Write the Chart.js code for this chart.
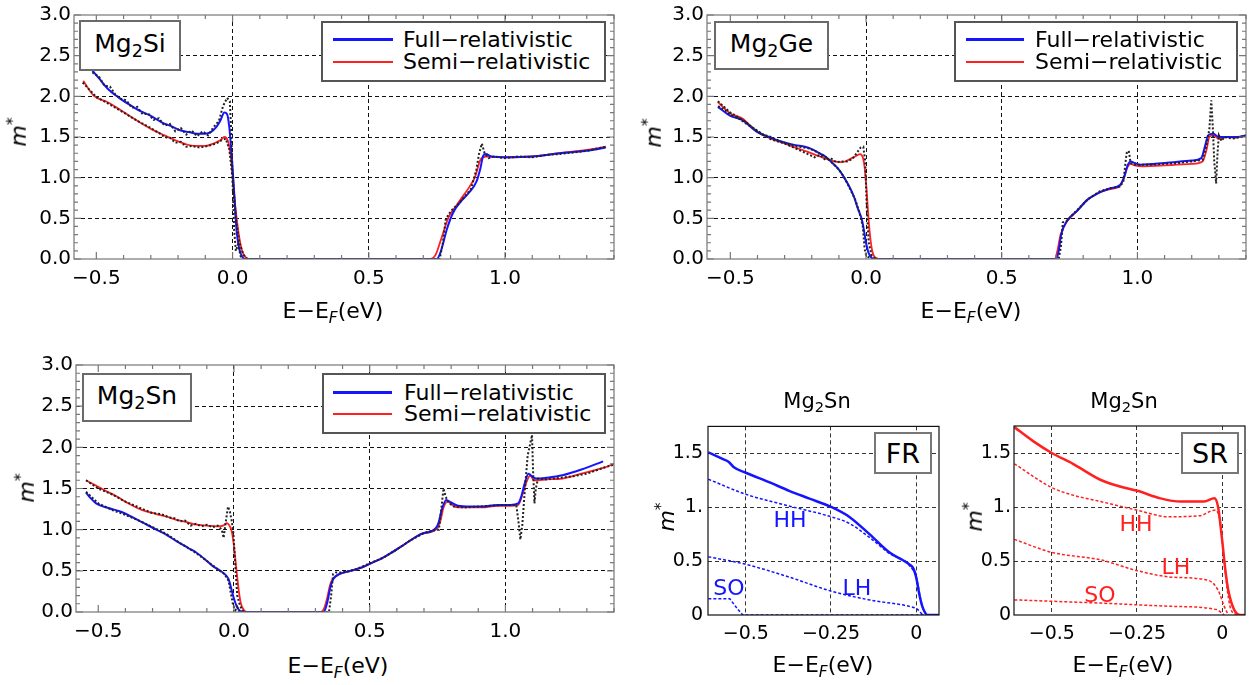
<!DOCTYPE html>
<html>
<head>
<meta charset="utf-8">
<script src="https://cdn.jsdelivr.net/npm/chart.js@4.4.1/dist/chart.umd.min.js"></script>
<style>
body { margin: 0; background: #fff; width: 1257px; height: 685px; position: relative; overflow: hidden; font-family: "DejaVu Sans", sans-serif; }
canvas { position: absolute; }
.c { position: absolute; white-space: nowrap; line-height: 1; transform: translate(-50%, -50%); }
.r { position: absolute; white-space: nowrap; line-height: 1; transform: translate(-50%, -50%) rotate(-90deg); font-size: 22px; }
.box { position: absolute; box-sizing: border-box; border: 2px solid #6a6a6a; background: #fff; display: flex; align-items: center; justify-content: center; }
.box > span { white-space: nowrap; line-height: 1; }
.leg { position: absolute; white-space: nowrap; line-height: 1; font-size: 22px; transform: translateY(-50%); }
.ln { position: absolute; }
.sb { font-size: 70%; vertical-align: -0.3em; }
.sp { font-size: 70%; vertical-align: 0.55em; }
.xt { font-size: 22px; }
</style>
</head>
<body>
<canvas id="si" width="630" height="300" style="left:0;top:0"></canvas>
<canvas id="ge" width="625" height="300" style="left:632px;top:0"></canvas>
<canvas id="sn" width="630" height="300" style="left:0;top:350px"></canvas>
<canvas id="fr" width="310" height="240" style="left:640px;top:410px"></canvas>
<canvas id="sr" width="307" height="240" style="left:950px;top:410px"></canvas>

<!-- Mg2Si -->
<div class="box" style="left:79px;top:20px;width:102px;height:51px;font-size:25px"><span>Mg<span class="sb">2</span>Si</span></div>
<div class="box" style="left:321px;top:21px;width:285px;height:61px;border-color:#555"></div>
<div class="ln" style="left:333px;top:38px;width:60px;height:3px;background:#1414ff"></div>
<div class="ln" style="left:333px;top:61px;width:60px;height:2px;background:#ff2020"></div>
<div class="leg" style="left:403px;top:40px">Full−relativistic</div>
<div class="leg" style="left:403px;top:62px">Semi−relativistic</div>
<div class="c xt" style="left:333px;top:313px">E−E<span class="sb"><i>F</i></span>(eV)</div>
<div class="r" style="left:18px;top:132px"><i>m</i><span class="sp">*</span></div>

<!-- Mg2Ge -->
<div class="box" style="left:714px;top:21px;width:115px;height:49px;font-size:25px"><span>Mg<span class="sb">2</span>Ge</span></div>
<div class="box" style="left:954px;top:21px;width:284px;height:61px;border-color:#555"></div>
<div class="ln" style="left:966px;top:38px;width:58px;height:3px;background:#1414ff"></div>
<div class="ln" style="left:966px;top:61px;width:58px;height:2px;background:#ff2020"></div>
<div class="leg" style="left:1035px;top:40px">Full−relativistic</div>
<div class="leg" style="left:1035px;top:62px">Semi−relativistic</div>
<div class="c xt" style="left:971px;top:313px">E−E<span class="sb"><i>F</i></span>(eV)</div>
<div class="r" style="left:653px;top:133px"><i>m</i><span class="sp">*</span></div>

<!-- Mg2Sn -->
<div class="box" style="left:82px;top:373px;width:110px;height:49px;font-size:25px"><span>Mg<span class="sb">2</span>Sn</span></div>
<div class="box" style="left:322px;top:373px;width:284px;height:61px;border-color:#555"></div>
<div class="ln" style="left:333px;top:391px;width:59px;height:3px;background:#1414ff"></div>
<div class="ln" style="left:333px;top:413px;width:59px;height:2px;background:#ff2020"></div>
<div class="leg" style="left:404px;top:393px">Full−relativistic</div>
<div class="leg" style="left:404px;top:414px">Semi−relativistic</div>
<div class="c xt" style="left:338px;top:668px">E−E<span class="sb"><i>F</i></span>(eV)</div>
<div class="r" style="left:26px;top:488px"><i>m</i><span class="sp">*</span></div>

<!-- FR -->
<div class="c" style="left:817px;top:403px;font-size:21px">Mg<span class="sb">2</span>Sn</div>
<div class="box" style="left:874px;top:432px;width:58px;height:42px;font-size:27px;border-color:#777"><span>FR</span></div>
<div class="c" style="left:790px;top:520px;font-size:22px;color:#1414ff">HH</div>
<div class="c" style="left:857px;top:588px;font-size:22px;color:#1414ff">LH</div>
<div class="c" style="left:729px;top:588px;font-size:22px;color:#1414ff">SO</div>
<div class="c xt" style="left:823px;top:667px">E−E<span class="sb"><i>F</i></span>(eV)</div>
<div class="r" style="left:666px;top:517px"><i>m</i><span class="sp">*</span></div>

<!-- SR -->
<div class="c" style="left:1124px;top:403px;font-size:21px">Mg<span class="sb">2</span>Sn</div>
<div class="box" style="left:1181px;top:432px;width:58px;height:42px;font-size:27px;border-color:#777"><span>SR</span></div>
<div class="c" style="left:1136px;top:524px;font-size:22px;color:#ff2020">HH</div>
<div class="c" style="left:1176px;top:567px;font-size:22px;color:#ff2020">LH</div>
<div class="c" style="left:1100px;top:595px;font-size:22px;color:#ff2020">SO</div>
<div class="c xt" style="left:1123px;top:667px">E−E<span class="sb"><i>F</i></span>(eV)</div>
<div class="r" style="left:974px;top:517px"><i>m</i><span class="sp">*</span></div>

<script>
// ticks
const bigXTicks = [-0.5, 0, 0.5, 1.0];
const bigXLabels = ['−0.5', '0.0', '0.5', '1.0'];
const bigYTicks = [0, 0.5, 1, 1.5, 2, 2.5, 3];
const bigYLabels = ['0.0', '0.5', '1.0', '1.5', '2.0', '2.5', '3.0'];
const smallXTicks = [-0.5, -0.25, 0];
const smallXLabels = ['−0.5', '−0.25', '0'];
const smallYTicks = [0, 0.5, 1, 1.5];
const smallYLabels = ['0', '0.5', '1.', '1.5'];

// Mg2Si  [E - EF, m*]
const siFull = [[-0.52,2.34],[-0.49,2.22],[-0.46,2.1],[-0.42,1.99],[-0.38,1.9],[-0.34,1.82],[-0.3,1.76],[-0.26,1.68],[-0.23,1.64],[-0.19,1.58],[-0.16,1.56],[-0.13,1.54],[-0.1,1.54],[-0.08,1.56],[-0.06,1.62],[-0.045,1.7],[-0.03,1.8],[-0.02,1.78],[-0.012,1.62],[-0.005,1.35],[0,1.12],[0.008,0.7],[0.015,0.34],[0.025,0.12],[0.035,0.03],[0.045,0],
  [0.75,0],[0.765,0.1],[0.786,0.36],[0.808,0.56],[0.836,0.7],[0.866,0.81],[0.895,0.95],[0.91,1.12],[0.92,1.27],[0.93,1.29],[0.95,1.26],[1.0,1.25],[1.1,1.26],[1.2,1.3],[1.3,1.33],[1.37,1.37]];
const siSemi = [[-0.548,2.19],[-0.51,2.01],[-0.46,1.93],[-0.42,1.85],[-0.36,1.72],[-0.3,1.6],[-0.25,1.52],[-0.21,1.46],[-0.17,1.41],[-0.14,1.39],[-0.1,1.39],[-0.07,1.42],[-0.045,1.46],[-0.03,1.5],[-0.018,1.46],[-0.008,1.3],[0,1.05],[0.01,0.65],[0.022,0.32],[0.035,0.1],[0.051,0.01],[0.06,0],
  [0.728,0],[0.745,0.05],[0.765,0.24],[0.794,0.52],[0.82,0.65],[0.845,0.77],[0.87,0.89],[0.89,1.01],[0.91,1.22],[0.93,1.26],[1.0,1.25],[1.1,1.26],[1.2,1.3],[1.3,1.34],[1.37,1.38]];
const siRawFull = [[-0.53,2.38],[-0.51,2.28],[-0.49,2.24],[-0.47,2.13],[-0.45,2.12],[-0.43,2.02],[-0.41,1.97],[-0.39,1.95],[-0.37,1.86],[-0.35,1.87],[-0.33,1.78],[-0.31,1.79],[-0.29,1.71],[-0.27,1.73],[-0.25,1.64],[-0.23,1.66],[-0.21,1.57],[-0.19,1.61],[-0.17,1.53],[-0.15,1.58],[-0.13,1.51],[-0.11,1.57],[-0.09,1.52],[-0.07,1.62],[-0.05,1.7],[-0.035,1.88],[-0.02,1.98],[-0.01,1.94],[-0.004,1.5],[0,0.95],[0.006,0.35],[0.012,0.1],[0.02,0.18],[0.03,0.03],[0.04,0],
  [0.76,0],[0.772,0.2],[0.782,0.48],[0.795,0.56],[0.81,0.62],[0.83,0.68],[0.85,0.76],[0.875,0.86],[0.895,1.1],[0.905,1.3],[0.915,1.42],[0.925,1.3],[0.94,1.24],[0.96,1.26],[1.0,1.24],[1.05,1.26],[1.1,1.25],[1.15,1.28],[1.2,1.29],[1.25,1.31],[1.3,1.33],[1.37,1.38]];
const siRawSemi = [[-0.55,2.17],[-0.5,1.99],[-0.45,1.9],[-0.4,1.8],[-0.35,1.7],[-0.3,1.61],[-0.27,1.55],[-0.25,1.5],[-0.23,1.49],[-0.21,1.43],[-0.19,1.44],[-0.17,1.38],[-0.15,1.39],[-0.12,1.37],[-0.09,1.39],[-0.06,1.42],[-0.04,1.46],[-0.025,1.48],[-0.012,1.35],[0,1.0],[0.012,0.5],[0.025,0.2],[0.04,0.05],[0.055,0]];

// Mg2Ge
const geFull = [[-0.546,1.87],[-0.5,1.76],[-0.457,1.71],[-0.4,1.56],[-0.35,1.49],[-0.307,1.44],[-0.26,1.4],[-0.225,1.38],[-0.2,1.35],[-0.172,1.3],[-0.15,1.26],[-0.127,1.19],[-0.1,1.1],[-0.082,1.01],[-0.06,0.88],[-0.045,0.77],[-0.03,0.62],[-0.015,0.48],[-0.007,0.34],[0,0.2],[0.01,0.07],[0.022,0.01],[0.03,0],
  [0.7,0],[0.71,0.1],[0.719,0.3],[0.741,0.47],[0.78,0.6],[0.816,0.73],[0.85,0.8],[0.868,0.83],[0.9,0.87],[0.936,0.91],[0.95,1.0],[0.965,1.16],[0.975,1.2],[0.99,1.18],[1.01,1.16],[1.1,1.18],[1.2,1.21],[1.235,1.24],[1.25,1.4],[1.26,1.52],[1.28,1.54],[1.3,1.5],[1.34,1.5],[1.37,1.5],[1.40,1.52]];
const geSemi = [[-0.546,1.93],[-0.5,1.79],[-0.457,1.73],[-0.4,1.56],[-0.35,1.48],[-0.3,1.42],[-0.26,1.37],[-0.217,1.32],[-0.17,1.26],[-0.127,1.21],[-0.09,1.19],[-0.07,1.21],[-0.052,1.24],[-0.035,1.27],[-0.022,1.29],[-0.012,1.25],[-0.005,1.12],[0.002,0.85],[0.008,0.55],[0.015,0.28],[0.025,0.07],[0.04,0.01],[0.052,0],
  [0.695,0],[0.705,0.1],[0.717,0.3],[0.74,0.46],[0.78,0.6],[0.816,0.73],[0.85,0.8],[0.868,0.83],[0.9,0.86],[0.936,0.9],[0.95,0.99],[0.962,1.12],[0.975,1.17],[0.99,1.15],[1.02,1.14],[1.1,1.15],[1.2,1.17],[1.24,1.2],[1.255,1.35],[1.265,1.5],[1.28,1.52],[1.3,1.48],[1.33,1.5],[1.36,1.49],[1.40,1.52]];
const geRawFull = [[-0.545,1.88],[-0.52,1.83],[-0.5,1.77],[-0.47,1.73],[-0.44,1.66],[-0.41,1.6],[-0.38,1.53],[-0.35,1.5],[-0.32,1.45],[-0.29,1.42],[-0.26,1.39],[-0.23,1.37],[-0.21,1.36],[-0.19,1.33],[-0.17,1.3],[-0.15,1.26],[-0.13,1.2],[-0.1,1.1],[-0.08,1.0],[-0.06,0.87],[-0.04,0.73],[-0.025,0.58],[-0.012,0.4],[-0.005,0.12],[0,0.05],[0.01,0.02],[0.02,0],
  [0.71,0],[0.718,0.15],[0.725,0.45],[0.74,0.47],[0.78,0.61],[0.82,0.74],[0.86,0.83],[0.9,0.87],[0.935,0.89],[0.948,0.95],[0.96,1.3],[0.968,1.33],[0.975,1.18],[0.99,1.16],[1.05,1.16],[1.1,1.17],[1.15,1.18],[1.2,1.2],[1.24,1.22],[1.255,1.4],[1.265,1.6],[1.272,1.95],[1.278,1.6],[1.283,1.2],[1.29,0.93],[1.295,1.3],[1.3,1.52],[1.31,1.45],[1.32,1.5],[1.35,1.48],[1.38,1.5],[1.40,1.52]];
const geRawSemi = [[-0.546,1.94],[-0.5,1.8],[-0.45,1.7],[-0.4,1.57],[-0.35,1.47],[-0.3,1.42],[-0.26,1.36],[-0.22,1.3],[-0.19,1.25],[-0.17,1.28],[-0.15,1.22],[-0.13,1.24],[-0.11,1.19],[-0.09,1.2],[-0.07,1.2],[-0.05,1.23],[-0.035,1.3],[-0.02,1.37],[-0.01,1.38],[-0.003,1.2],[0.003,0.6],[0.01,0.2],[0.02,0.05],[0.035,0]];

// Mg2Sn
const snFull = [[-0.545,1.45],[-0.53,1.39],[-0.508,1.32],[-0.46,1.26],[-0.419,1.22],[-0.35,1.11],[-0.286,1.0],[-0.25,0.94],[-0.212,0.86],[-0.17,0.78],[-0.138,0.72],[-0.1,0.62],[-0.079,0.56],[-0.05,0.5],[-0.034,0.46],[-0.02,0.4],[-0.012,0.31],[0,0.16],[0.01,0.07],[0.02,0.02],[0.033,0],
  [0.33,0],[0.344,0.12],[0.355,0.3],[0.366,0.4],[0.388,0.46],[0.43,0.5],[0.47,0.54],[0.51,0.6],[0.544,0.65],[0.58,0.72],[0.618,0.8],[0.65,0.87],[0.692,0.95],[0.744,1.02],[0.755,1.1],[0.766,1.25],[0.782,1.36],[0.8,1.33],[0.825,1.29],[0.87,1.28],[0.914,1.28],[0.97,1.3],[1.018,1.3],[1.047,1.32],[1.06,1.42],[1.07,1.55],[1.085,1.68],[1.1,1.64],[1.114,1.62],[1.15,1.63],[1.21,1.66],[1.28,1.73],[1.36,1.83]];
const snSemi = [[-0.545,1.6],[-0.478,1.48],[-0.43,1.4],[-0.39,1.32],[-0.34,1.24],[-0.286,1.19],[-0.25,1.16],[-0.212,1.12],[-0.17,1.09],[-0.138,1.06],[-0.1,1.05],[-0.064,1.04],[-0.04,1.05],[-0.027,1.08],[-0.015,1.04],[-0.007,0.96],[0,0.8],[0.01,0.48],[0.018,0.25],[0.025,0.11],[0.035,0.03],[0.047,0],
  [0.32,0],[0.334,0.06],[0.344,0.18],[0.355,0.34],[0.366,0.41],[0.388,0.46],[0.43,0.5],[0.47,0.54],[0.51,0.6],[0.544,0.65],[0.58,0.72],[0.618,0.8],[0.65,0.87],[0.692,0.95],[0.744,1.0],[0.76,1.1],[0.772,1.27],[0.788,1.34],[0.805,1.3],[0.825,1.27],[0.87,1.27],[0.914,1.27],[0.97,1.29],[1.018,1.29],[1.047,1.3],[1.065,1.45],[1.08,1.6],[1.092,1.66],[1.105,1.6],[1.12,1.6],[1.15,1.61],[1.21,1.62],[1.28,1.68],[1.36,1.75],[1.40,1.8]];
const snRawFull = [[-0.545,1.46],[-0.5,1.32],[-0.45,1.24],[-0.4,1.18],[-0.35,1.11],[-0.3,1.03],[-0.25,0.95],[-0.2,0.84],[-0.15,0.74],[-0.1,0.62],[-0.06,0.52],[-0.035,0.46],[-0.02,0.38],[-0.01,0.2],[-0.003,0.08],[0.005,0.02],[0.012,0.06],[0.02,0],
  [0.35,0],[0.358,0.2],[0.365,0.46],[0.375,0.48],[0.4,0.48],[0.45,0.52],[0.5,0.59],[0.55,0.66],[0.6,0.76],[0.65,0.87],[0.7,0.96],[0.745,1.0],[0.755,1.0],[0.762,1.2],[0.772,1.5],[0.78,1.4],[0.79,1.33],[0.81,1.28],[0.85,1.27],[0.9,1.28],[0.95,1.29],[1.0,1.3],[1.04,1.3],[1.048,1.1],[1.055,0.88],[1.062,1.05],[1.072,1.5],[1.082,1.9],[1.098,2.15],[1.102,1.7],[1.107,1.32],[1.112,1.5],[1.12,1.62],[1.15,1.61],[1.2,1.63],[1.25,1.65],[1.3,1.68],[1.36,1.75],[1.4,1.79]];
const snRawSemi = [[-0.545,1.6],[-0.5,1.5],[-0.45,1.43],[-0.4,1.34],[-0.35,1.27],[-0.3,1.2],[-0.27,1.19],[-0.24,1.15],[-0.22,1.14],[-0.2,1.1],[-0.18,1.11],[-0.16,1.05],[-0.14,1.07],[-0.12,1.04],[-0.1,1.06],[-0.08,1.03],[-0.06,1.05],[-0.045,1.0],[-0.038,0.9],[-0.03,1.1],[-0.022,1.28],[-0.015,1.22],[-0.008,1.1],[-0.002,0.95],[0.005,0.55],[0.012,0.2],[0.02,0.1],[0.03,0.02],[0.04,0]];

// Mg2Sn band resolved, full-relativistic
const frTotal = [[-0.61,1.51],[-0.57,1.45],[-0.55,1.42],[-0.535,1.37],[-0.5,1.32],[-0.43,1.23],[-0.371,1.15],[-0.313,1.08],[-0.248,1.0],[-0.196,0.91],[-0.137,0.75],[-0.078,0.58],[-0.04,0.51],[-0.02,0.47],[-0.008,0.43],[0,0.35],[0.01,0.18],[0.018,0.08],[0.033,0],[0.07,0]];
const frHH = [[-0.61,1.26],[-0.5,1.12],[-0.371,1.01],[-0.248,0.91],[-0.196,0.85],[-0.137,0.72],[-0.078,0.57],[-0.02,0.46],[0,0.35],[0.018,0.08],[0.033,0]];
const frLH = [[-0.61,0.54],[-0.5,0.47],[-0.371,0.35],[-0.248,0.22],[-0.137,0.14],[-0.02,0.08],[0,0.06],[0.02,0]];
const frSO = [[-0.61,0.15],[-0.547,0.15],[-0.523,0.05],[-0.509,0],[0.07,0]];

// Mg2Sn band resolved, semi-relativistic
const srTotal = [[-0.61,1.74],[-0.555,1.61],[-0.5,1.5],[-0.438,1.4],[-0.356,1.25],[-0.3,1.19],[-0.249,1.15],[-0.181,1.08],[-0.123,1.05],[-0.053,1.05],[-0.023,1.08],[-0.012,1.0],[0,0.69],[0.01,0.4],[0.018,0.23],[0.035,0.05],[0.053,0],[0.067,0]];
const srHH = [[-0.61,1.4],[-0.5,1.18],[-0.438,1.11],[-0.356,1.05],[-0.249,0.97],[-0.158,0.91],[-0.064,0.92],[-0.023,0.97],[-0.005,0.85],[0.006,0.48],[0.023,0.08],[0.04,0]];
const srLH = [[-0.61,0.7],[-0.5,0.58],[-0.356,0.51],[-0.249,0.41],[-0.145,0.35],[-0.04,0.32],[-0.012,0.23],[0.006,0.08],[0.018,0]];
const srSO = [[-0.61,0.14],[-0.356,0.11],[-0.145,0.08],[-0.017,0.05],[0.006,0]];

const BLUE = '#1414ff', RED = '#ff2020', RAW = '#222';
Chart.defaults.font.family = 'DejaVu Sans';
Chart.defaults.color = '#000';

const pts = a => a.map(([x, y]) => ({ x, y }));
function line(data, color, width, dash, order, smooth) {
    return {
        data: pts(data), borderColor: color, borderWidth: width, borderDash: dash,
        order: order, pointRadius: 0, fill: false,
        cubicInterpolationMode: smooth ? 'monotone' : 'default', tension: 0
    };
}

// frame with inward ticks on all four sides
const framePlugin = {
    id: 'frame',
    afterDraw(chart, args, o) {
        const { ctx, chartArea: a, scales: { x, y } } = chart;
        ctx.save();
        ctx.strokeStyle = o.color;
        ctx.lineWidth = o.width;
        if (o.minor) {
            ctx.beginPath();
            const run = (scale, step, majors, draw) => {
                for (let k = Math.ceil(scale.min / step - 1e-6); k * step <= scale.max + 1e-9; k++) {
                    const v = +(k * step).toFixed(4);
                    const len = majors.some(m => Math.abs(m - v) < 1e-6) ? 7 : 4;
                    draw(scale.getPixelForValue(v), len);
                }
            };
            run(x, o.minor[0], o.xMajor, (p, l) => {
                ctx.moveTo(p, a.bottom); ctx.lineTo(p, a.bottom - l);
                ctx.moveTo(p, a.top); ctx.lineTo(p, a.top + l);
            });
            run(y, o.minor[1], o.yMajor, (p, l) => {
                ctx.moveTo(a.left, p); ctx.lineTo(a.left + l, p);
                ctx.moveTo(a.right, p); ctx.lineTo(a.right - l, p);
            });
            ctx.stroke();
        }
        ctx.strokeRect(a.left, a.top, a.right - a.left, a.bottom - a.top);
        ctx.restore();
    }
};

function panel(id, datasets, o) {
    new Chart(document.getElementById(id), {
        type: 'line',
        data: { datasets },
        options: {
            responsive: false,
            animation: false,
            events: [],
            layout: { padding: { top: o.padT, right: o.padR, left: 0, bottom: 0 } },
            plugins: { legend: { display: false }, tooltip: { enabled: false }, frame: o.frame },
            scales: {
                x: {
                    type: 'linear', min: o.xMin, max: o.xMax,
                    afterBuildTicks: s => { s.ticks = o.xTicks.map(v => ({ value: v })); },
                    afterFit: s => { s.height = o.xH; },
                    ticks: { autoSkip: false, maxRotation: 0, padding: o.xPad, font: { size: o.tick }, callback: (v, i) => o.xLabels[i] },
                    grid: { drawTicks: false, lineWidth: 1, color: c => o.xHide.includes(c.tick && c.tick.value) ? 'rgba(0,0,0,0)' : o.grid },
                    border: { display: false, dash: [4, 3] }
                },
                y: {
                    type: 'linear', min: o.yMin, max: o.yMax,
                    afterBuildTicks: s => { s.ticks = o.yTicks.map(v => ({ value: v })); },
                    afterFit: s => { s.width = o.yW; },
                    ticks: { autoSkip: false, padding: o.yPad, font: { size: o.tick }, callback: (v, i) => o.yLabels[i] },
                    grid: { drawTicks: false, lineWidth: 1, color: c => o.yHide.includes(c.tick && c.tick.value) ? 'rgba(0,0,0,0)' : o.grid },
                    border: { display: false, dash: [4, 3] }
                }
            }
        },
        plugins: [framePlugin]
    });
}

const bigFrame = { color: '#777', width: 1.2, minor: [0.1, 0.1], xMajor: bigXTicks, yMajor: bigYTicks };
const big = {
    xMin: -0.582, xMax: 1.40, yMin: 0, yMax: 3,
    xTicks: bigXTicks, xLabels: bigXLabels, yTicks: bigYTicks, yLabels: bigYLabels,
    xHide: [-0.5], yHide: [0, 3], grid: '#111', tick: 20, xPad: 8, yPad: 3, frame: bigFrame
};

panel('si', [
    line(siRawFull, RAW, 2, [2, 2], 0, false),
    line(siRawSemi, RAW, 2, [2, 2], 0, false),
    line(siFull, BLUE, 2, [], 1, true),
    line(siSemi, RED, 1.8, [], 2, true)
], Object.assign({}, big, { padT: 14, padR: 16, yW: 74, xH: 41 }));

panel('ge', [
    line(geRawFull, RAW, 2, [2, 2], 0, false),
    line(geRawSemi, RAW, 2, [2, 2], 0, false),
    line(geFull, BLUE, 2, [], 1, true),
    line(geSemi, RED, 1.8, [], 2, true)
], Object.assign({}, big, { xMin: -0.586, padT: 14, padR: 11, yW: 75, xH: 41 }));

panel('sn', [
    line(snRawFull, RAW, 2, [2, 2], 0, false),
    line(snRawSemi, RAW, 2, [2, 2], 0, false),
    line(snFull, BLUE, 2, [], 1, true),
    line(snSemi, RED, 1.8, [], 2, true)
], Object.assign({}, big, { padT: 15, padR: 16, yW: 76, xH: 38 }));

const small = {
    xMin: -0.611, xMax: 0.067, yMin: 0, yMax: 1.75,
    xTicks: smallXTicks, xLabels: smallXLabels, yTicks: smallYTicks, yLabels: smallYLabels,
    xHide: [], yHide: [0], grid: '#333', tick: 19, xPad: 8, padT: 16, xH: 35,
    frame: { color: '#111', width: 1.2 }
};

panel('fr', [
    line(frTotal, BLUE, 2.5, [], 0, true),
    line(frHH, BLUE, 1.5, [3, 2], 1, true),
    line(frLH, BLUE, 1.5, [3, 2], 1, true),
    line(frSO, BLUE, 1.5, [3, 2], 1, false)
], Object.assign({}, small, { padR: 11, yW: 68, yPad: 5 }));

panel('sr', [
    line(srTotal, RED, 2.5, [], 0, true),
    line(srHH, RED, 1.5, [3, 2], 1, true),
    line(srLH, RED, 1.5, [3, 2], 1, true),
    line(srSO, RED, 1.5, [3, 2], 1, true)
], Object.assign({}, small, { padR: 12, yW: 64, yPad: 3 }));
</script>
</body>
</html>
